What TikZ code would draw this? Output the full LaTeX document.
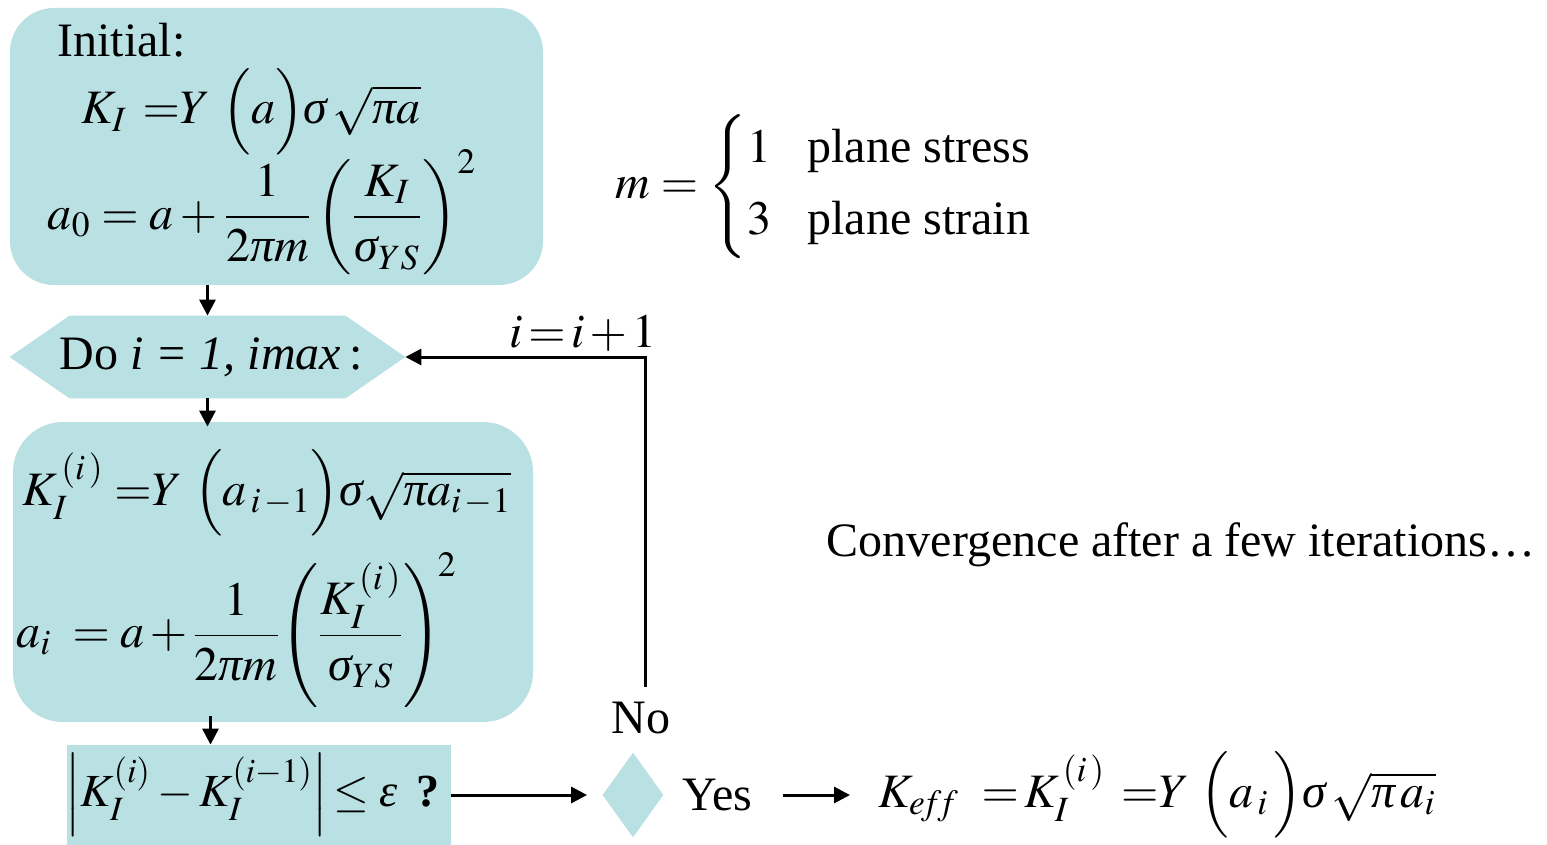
\documentclass[tikz,border=0pt]{standalone}
\usepackage{amsmath}
\usepackage{mathptmx}
\usepackage{fontspec}
\setmainfont{Liberation Serif}
\usetikzlibrary{arrows.meta,shapes.geometric}
\definecolor{boxblue}{RGB}{185,224,227}
\newcommand{\mysig}{\text{\itshape σ}}
\newcommand{\mypi}{\text{\itshape π}}
\newcommand{\myeps}{\text{\itshape ε}}
\begin{document}
\begin{tikzpicture}[x=0.5pt,y=-0.5pt,
  every node/.style={font=\fontsize{24}{28}\selectfont, inner sep=0pt},
  arr/.style={line width=1.5pt, -{Triangle[length=8pt,width=8pt]}},
  bluebox/.style={fill=boxblue, rounded corners=22pt},
  sqbox/.style={fill=boxblue},
  dia/.style={diamond, fill=boxblue, inner sep=0pt, minimum width=30.5pt, minimum height=42.5pt}]
\useasboundingbox (0,0) rectangle (1547,845);

% Box 1
\node[bluebox, minimum width=266.5pt, minimum height=138.5pt] (init) at (276.5,146.5) {};
\node[anchor=base west] (initT) at (57,57) {Initial:};
\node (k0) at (251,112) {$K_{I}\;\,{=}Y\ \Bigl(a\Bigr)\mysig\,\sqrt{\mypi a}$};
\node (a0) at (262,212) {$a_0 = a + \dfrac{1}{2\mypi m}\left(\dfrac{K_I}{\mysig_{YS}}\right)^{2}$};

% Hexagon
\node[minimum width=197.5pt, minimum height=41pt] (do) at (207.5,357) {};
\fill[boxblue] (do.west) -- ([xshift=30pt]do.north west) -- ([xshift=-30pt]do.north east)
  -- (do.east) -- ([xshift=-30pt]do.south east) -- ([xshift=30pt]do.south west) -- cycle;
\node (doT) at (211,357) {Do \textit{i = 1, imax}\,:};

% Box 2
\node[bluebox, rounded corners=25pt, minimum width=260pt, minimum height=150pt] (iter) at (273,572) {};
\node (k1) at (267,493) {$K^{\,(i\,)}_{I}\;{=}Y\ \Bigl(a_{\,i\,-1}\Bigr)\mysig\sqrt{\mypi a_{i\,-1}}$};
\node[anchor=west] (a1) at (16,630) {$a_i\;= a\,{+}\,\dfrac{1}{2\mypi m}\!\left(\dfrac{K^{\,(i\,)}_{I}}{\mysig_{YS}}\right)^{\!2}$};

% Box 3
\node[sqbox, minimum width=192pt, minimum height=50pt] (test) at (259,795) {};
\node[anchor=west, font=\fontsize{23}{27}\selectfont] (testT) at (65,795) {$\left|K^{(i)}_{I} - K^{(i-1)}_{I}\right|\!\le\myeps$\ \,\textbf{?}};

% Decision
\node[dia] (dec) at (633,795) {};
\node (no) at (641,718) {No};
\node[anchor=west] (yes) at (682,795) {Yes};
\node[anchor=west] (keff) at (878,795) {$K_{e\!f\!f}\;\ {=}\,K^{\,(i\,)}_{I}\;\,{=}Y\ \Bigl(a_{\,i}\,\Bigr)\mysig\,\sqrt{\mypi\, a_{i}}$};

% Side texts
\node (inc) at (583,333) {$i\,{=}\,i\,{+}\,1$};
\node (mdef) at (824,187) {$m = \left\{\begin{array}{@{}l@{\hspace{18pt}}l@{}}1 & \text{plane stress}\\[8pt] 3 & \text{plane strain}\end{array}\right.$};
\node (conv) at (1181,545) {Convergence after a few iterations\ldots};

% Connectors
\draw[arr] (do.north |- init.south) -- (do.north);
\draw[arr] (do.south) -- ([yshift=-2.5pt]do.south |- iter.north);
\draw[arr] ([xshift=1.5pt,yshift=3pt]do.south |- iter.south) -- ([xshift=1.5pt]do.south |- test.north);
\draw[arr] (test.east) -- ([xshift=-7.5pt]dec.west);
\draw[arr] ([xshift=15pt]yes.east) -- ([xshift=-14pt]keff.west);
\draw[arr] ([xshift=2pt,yshift=7.5pt]no.north) |- (do.east);
\end{tikzpicture}
\end{document}
